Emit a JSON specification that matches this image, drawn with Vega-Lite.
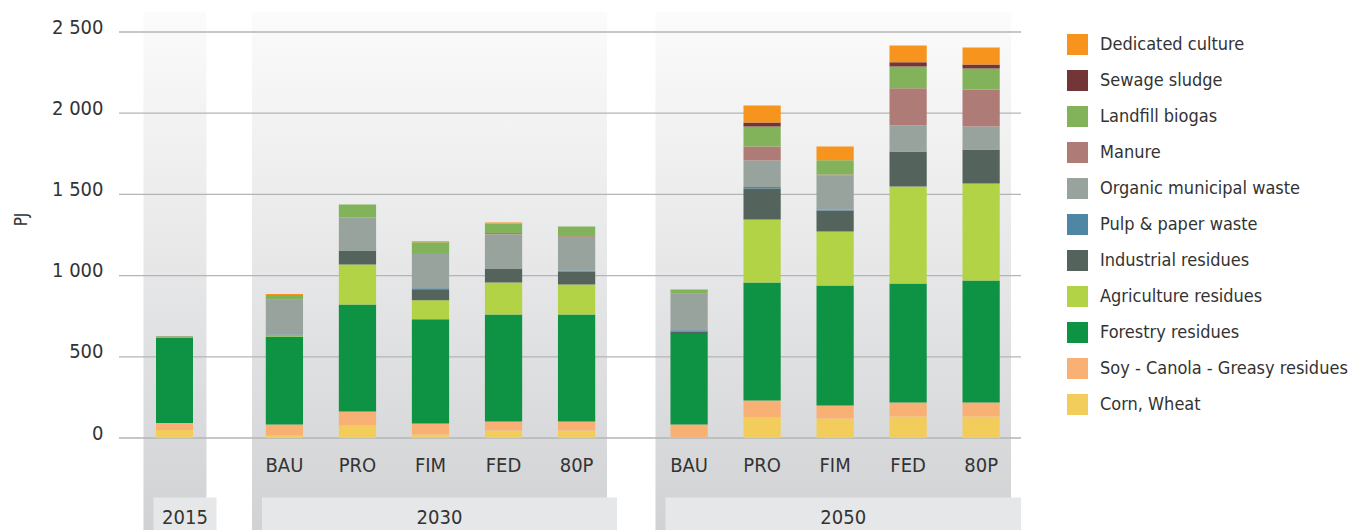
{
  "$schema": "https://vega.github.io/schema/vega-lite/v6.json",
  "padding": {"left": 12, "top": 12, "right": 5, "bottom": 0},
  "background": "white",
  "spacing": 0,
  "bounds": "flush",
  "config": {"view": {"stroke": null}, "font": "DejaVu Sans Condensed, sans-serif"},
  "resolve": {"scale": {"x": "independent", "y": "independent", "color": "shared"}},
  "datasets": {
    "bio": [
      {"year": "2015", "scenario": "2015", "source": "Corn, Wheat", "value": 50},
      {"year": "2015", "scenario": "2015", "source": "Soy - Canola - Greasy residues", "value": 42},
      {"year": "2015", "scenario": "2015", "source": "Forestry residues", "value": 526},
      {"year": "2015", "scenario": "2015", "source": "Organic municipal waste", "value": 4},
      {"year": "2015", "scenario": "2015", "source": "Manure", "value": 3},
      {"year": "2015", "scenario": "2015", "source": "Landfill biogas", "value": 3},

      {"year": "2030", "scenario": "BAU", "source": "Corn, Wheat", "value": 15},
      {"year": "2030", "scenario": "BAU", "source": "Soy - Canola - Greasy residues", "value": 68},
      {"year": "2030", "scenario": "BAU", "source": "Forestry residues", "value": 542},
      {"year": "2030", "scenario": "BAU", "source": "Agriculture residues", "value": 6},
      {"year": "2030", "scenario": "BAU", "source": "Pulp & paper waste", "value": 6},
      {"year": "2030", "scenario": "BAU", "source": "Organic municipal waste", "value": 212},
      {"year": "2030", "scenario": "BAU", "source": "Manure", "value": 2},
      {"year": "2030", "scenario": "BAU", "source": "Landfill biogas", "value": 29},
      {"year": "2030", "scenario": "BAU", "source": "Dedicated culture", "value": 6},

      {"year": "2030", "scenario": "PRO", "source": "Corn, Wheat", "value": 77},
      {"year": "2030", "scenario": "PRO", "source": "Soy - Canola - Greasy residues", "value": 86},
      {"year": "2030", "scenario": "PRO", "source": "Forestry residues", "value": 659},
      {"year": "2030", "scenario": "PRO", "source": "Agriculture residues", "value": 246},
      {"year": "2030", "scenario": "PRO", "source": "Industrial residues", "value": 87},
      {"year": "2030", "scenario": "PRO", "source": "Organic municipal waste", "value": 203},
      {"year": "2030", "scenario": "PRO", "source": "Landfill biogas", "value": 80},

      {"year": "2030", "scenario": "FIM", "source": "Corn, Wheat", "value": 22},
      {"year": "2030", "scenario": "FIM", "source": "Soy - Canola - Greasy residues", "value": 68},
      {"year": "2030", "scenario": "FIM", "source": "Forestry residues", "value": 641},
      {"year": "2030", "scenario": "FIM", "source": "Agriculture residues", "value": 117},
      {"year": "2030", "scenario": "FIM", "source": "Industrial residues", "value": 68},
      {"year": "2030", "scenario": "FIM", "source": "Pulp & paper waste", "value": 6},
      {"year": "2030", "scenario": "FIM", "source": "Organic municipal waste", "value": 213},
      {"year": "2030", "scenario": "FIM", "source": "Manure", "value": 4},
      {"year": "2030", "scenario": "FIM", "source": "Landfill biogas", "value": 66},
      {"year": "2030", "scenario": "FIM", "source": "Dedicated culture", "value": 6},

      {"year": "2030", "scenario": "FED", "source": "Corn, Wheat", "value": 46},
      {"year": "2030", "scenario": "FED", "source": "Soy - Canola - Greasy residues", "value": 56},
      {"year": "2030", "scenario": "FED", "source": "Forestry residues", "value": 659},
      {"year": "2030", "scenario": "FED", "source": "Agriculture residues", "value": 197},
      {"year": "2030", "scenario": "FED", "source": "Industrial residues", "value": 86},
      {"year": "2030", "scenario": "FED", "source": "Organic municipal waste", "value": 211},
      {"year": "2030", "scenario": "FED", "source": "Manure", "value": 7},
      {"year": "2030", "scenario": "FED", "source": "Landfill biogas", "value": 59},
      {"year": "2030", "scenario": "FED", "source": "Dedicated culture", "value": 6},

      {"year": "2030", "scenario": "80P", "source": "Corn, Wheat", "value": 46},
      {"year": "2030", "scenario": "80P", "source": "Soy - Canola - Greasy residues", "value": 56},
      {"year": "2030", "scenario": "80P", "source": "Forestry residues", "value": 659},
      {"year": "2030", "scenario": "80P", "source": "Agriculture residues", "value": 184},
      {"year": "2030", "scenario": "80P", "source": "Industrial residues", "value": 80},
      {"year": "2030", "scenario": "80P", "source": "Pulp & paper waste", "value": 6},
      {"year": "2030", "scenario": "80P", "source": "Organic municipal waste", "value": 206},
      {"year": "2030", "scenario": "80P", "source": "Manure", "value": 6},
      {"year": "2030", "scenario": "80P", "source": "Landfill biogas", "value": 59},

      {"year": "2050", "scenario": "BAU", "source": "Corn, Wheat", "value": 3},
      {"year": "2050", "scenario": "BAU", "source": "Soy - Canola - Greasy residues", "value": 80},
      {"year": "2050", "scenario": "BAU", "source": "Forestry residues", "value": 557},
      {"year": "2050", "scenario": "BAU", "source": "Industrial residues", "value": 16},
      {"year": "2050", "scenario": "BAU", "source": "Pulp & paper waste", "value": 8},
      {"year": "2050", "scenario": "BAU", "source": "Organic municipal waste", "value": 222},
      {"year": "2050", "scenario": "BAU", "source": "Manure", "value": 4},
      {"year": "2050", "scenario": "BAU", "source": "Landfill biogas", "value": 25},

      {"year": "2050", "scenario": "PRO", "source": "Corn, Wheat", "value": 126},
      {"year": "2050", "scenario": "PRO", "source": "Soy - Canola - Greasy residues", "value": 105},
      {"year": "2050", "scenario": "PRO", "source": "Forestry residues", "value": 727},
      {"year": "2050", "scenario": "PRO", "source": "Agriculture residues", "value": 388},
      {"year": "2050", "scenario": "PRO", "source": "Industrial residues", "value": 191},
      {"year": "2050", "scenario": "PRO", "source": "Pulp & paper waste", "value": 8},
      {"year": "2050", "scenario": "PRO", "source": "Organic municipal waste", "value": 164},
      {"year": "2050", "scenario": "PRO", "source": "Manure", "value": 86},
      {"year": "2050", "scenario": "PRO", "source": "Landfill biogas", "value": 123},
      {"year": "2050", "scenario": "PRO", "source": "Sewage sludge", "value": 25},
      {"year": "2050", "scenario": "PRO", "source": "Dedicated culture", "value": 105},

      {"year": "2050", "scenario": "FIM", "source": "Corn, Wheat", "value": 120},
      {"year": "2050", "scenario": "FIM", "source": "Soy - Canola - Greasy residues", "value": 80},
      {"year": "2050", "scenario": "FIM", "source": "Forestry residues", "value": 739},
      {"year": "2050", "scenario": "FIM", "source": "Agriculture residues", "value": 333},
      {"year": "2050", "scenario": "FIM", "source": "Industrial residues", "value": 129},
      {"year": "2050", "scenario": "FIM", "source": "Pulp & paper waste", "value": 6},
      {"year": "2050", "scenario": "FIM", "source": "Organic municipal waste", "value": 210},
      {"year": "2050", "scenario": "FIM", "source": "Manure", "value": 6},
      {"year": "2050", "scenario": "FIM", "source": "Landfill biogas", "value": 88},
      {"year": "2050", "scenario": "FIM", "source": "Dedicated culture", "value": 84},

      {"year": "2050", "scenario": "FED", "source": "Corn, Wheat", "value": 132},
      {"year": "2050", "scenario": "FED", "source": "Soy - Canola - Greasy residues", "value": 87},
      {"year": "2050", "scenario": "FED", "source": "Forestry residues", "value": 732},
      {"year": "2050", "scenario": "FED", "source": "Agriculture residues", "value": 598},
      {"year": "2050", "scenario": "FED", "source": "Industrial residues", "value": 215},
      {"year": "2050", "scenario": "FED", "source": "Organic municipal waste", "value": 160},
      {"year": "2050", "scenario": "FED", "source": "Manure", "value": 230},
      {"year": "2050", "scenario": "FED", "source": "Landfill biogas", "value": 134},
      {"year": "2050", "scenario": "FED", "source": "Sewage sludge", "value": 25},
      {"year": "2050", "scenario": "FED", "source": "Dedicated culture", "value": 104},

      {"year": "2050", "scenario": "80P", "source": "Corn, Wheat", "value": 132},
      {"year": "2050", "scenario": "80P", "source": "Soy - Canola - Greasy residues", "value": 87},
      {"year": "2050", "scenario": "80P", "source": "Forestry residues", "value": 751},
      {"year": "2050", "scenario": "80P", "source": "Agriculture residues", "value": 597},
      {"year": "2050", "scenario": "80P", "source": "Industrial residues", "value": 210},
      {"year": "2050", "scenario": "80P", "source": "Organic municipal waste", "value": 141},
      {"year": "2050", "scenario": "80P", "source": "Manure", "value": 228},
      {"year": "2050", "scenario": "80P", "source": "Landfill biogas", "value": 129},
      {"year": "2050", "scenario": "80P", "source": "Sewage sludge", "value": 25},
      {"year": "2050", "scenario": "80P", "source": "Dedicated culture", "value": 105}
    ],
    "ticks": [{"t": 0}, {"t": 500}, {"t": 1000}, {"t": 1500}, {"t": 2000}, {"t": 2500}]
  },
  "hconcat": [
    {
      "width": 111, "height": 406,
      "resolve": {"scale": {"x": "independent"}},
      "layer": [
        {
          "data": {"values": [{"year": "2015"}]},
          "layer": [
            {"mark": {"type": "rect", "fill": {"gradient": "linear", "x1": 0, "y1": 0, "x2": 0, "y2": 1, "stops": [{"offset": 0, "color": "#fbfbfb"}, {"offset": 1, "color": "#d1d2d4"}]}},
             "encoding": {"x": {"field": "year", "type": "nominal", "axis": null, "scale": {"paddingInner": 0, "paddingOuter": 0.381, "align": 0.51}},
                          "y": {"datum": 2620, "type": "quantitative", "scale": {"domain": [0, 2500], "nice": false}}, "y2": {"datum": -570}}},
            {"mark": {"type": "rect", "fill": "#e6e7e8", "xOffset": 10},
             "encoding": {"x": {"field": "year", "type": "nominal", "axis": null},
                          "y": {"datum": -366, "type": "quantitative"}, "y2": {"datum": -570}}},
            {"mark": {"type": "text", "dx": 10, "fontSize": 20, "color": "#333333", "baseline": "middle"},
             "encoding": {"x": {"field": "year", "type": "nominal", "axis": null},
                          "y": {"datum": -490, "type": "quantitative"}, "text": {"field": "year"}}}
          ]
        },
        {
          "data": {"name": "ticks"},
          "mark": {"type": "rule", "color": "#b5b5b5", "strokeWidth": 1.3},
          "encoding": {"y": {"field": "t", "type": "quantitative", "scale": {"domain": [0, 2500], "nice": false}}}
        },
        {
          "data": {"name": "bio"},
          "transform": [{"filter": "datum.year === '2015'"}, {"window": [{"op": "row_number", "as": "rank"}]}],
          "mark": {"type": "bar"},
          "encoding": {
            "x": {"field": "scenario", "type": "nominal", "axis": null, "scale": {"paddingInner": 0, "paddingOuter": 1}},
            "y": {"field": "value", "type": "quantitative", "stack": "zero", "scale": {"domain": [0, 2500], "nice": false},
                  "axis": {"title": "PJ", "zindex": 1, "grid": false, "domain": false, "ticks": false, "values": [0, 500, 1000, 1500, 2000, 2500],
                           "labelExpr": "replace(format(datum.value, ','), ',', ' ')", "labelFontSize": 20, "labelColor": "#333333", "labelPadding": 16, "labelOffset": -5,
                           "titleFontSize": 17, "titleFontWeight": "normal", "titleColor": "#333333", "titleAngle": 270, "titleX": -98, "titleY": 187, "titleAlign": "center", "titleBaseline": "middle"}},
            "order": {"field": "rank", "type": "quantitative", "sort": "ascending"},
            "color": {"field": "source", "type": "nominal",
              "scale": {"domain": ["Dedicated culture", "Sewage sludge", "Landfill biogas", "Manure", "Organic municipal waste", "Pulp & paper waste", "Industrial residues", "Agriculture residues", "Forestry residues", "Soy - Canola - Greasy residues", "Corn, Wheat"],
                        "range": ["#f7941d", "#743538", "#82b25a", "#af7b76", "#97a39c", "#4e87a4", "#54635b", "#b3d347", "#0e9244", "#f9b075", "#f3cd5c"]},
              "legend": {"title": null, "orient": "right", "offset": 43, "padding": 2, "symbolType": "square", "symbolSize": 441, "symbolStrokeWidth": 0, "symbolOpacity": 1, "labelFontSize": 18, "labelOffset": 12, "rowPadding": 15, "labelColor": "#333333", "labelLimit": 400}}
          }
        }
      ]
    },
    {
      "width": 401, "height": 406,
      "resolve": {"scale": {"x": "independent"}},
      "layer": [
        {
          "data": {"values": [{"year": "2030"}]},
          "layer": [
            {"mark": {"type": "rect", "fill": {"gradient": "linear", "x1": 0, "y1": 0, "x2": 0, "y2": 1, "stops": [{"offset": 0, "color": "#fbfbfb"}, {"offset": 1, "color": "#d1d2d4"}]}},
             "encoding": {"x": {"field": "year", "type": "nominal", "axis": null, "scale": {"paddingInner": 0, "paddingOuter": 0.0648, "align": 0.478}},
                          "y": {"datum": 2620, "type": "quantitative", "axis": null, "scale": {"domain": [0, 2500], "nice": false}}, "y2": {"datum": -570}}},
            {"mark": {"type": "rect", "fill": "#e6e7e8", "xOffset": 10},
             "encoding": {"x": {"field": "year", "type": "nominal", "axis": null},
                          "y": {"datum": -366, "type": "quantitative", "axis": null}, "y2": {"datum": -570}}},
            {"mark": {"type": "text", "dx": 10, "fontSize": 20, "color": "#333333", "baseline": "middle"},
             "encoding": {"x": {"field": "year", "type": "nominal", "axis": null},
                          "y": {"datum": -490, "type": "quantitative", "axis": null}, "text": {"field": "year"}}}
          ]
        },
        {
          "data": {"name": "ticks"},
          "mark": {"type": "rule", "color": "#b5b5b5", "strokeWidth": 1.3},
          "encoding": {"y": {"field": "t", "type": "quantitative", "axis": null, "scale": {"domain": [0, 2500], "nice": false}}}
        },
        {
          "data": {"name": "bio"},
          "transform": [{"filter": "datum.year === '2030'"}, {"window": [{"op": "row_number", "as": "rank"}]}],
          "mark": {"type": "bar"},
          "encoding": {
            "x": {"field": "scenario", "type": "nominal", "sort": ["BAU", "PRO", "FIM", "FED", "80P"], "scale": {"paddingInner": 0.49, "paddingOuter": 0.49},
                  "axis": {"title": null, "zindex": 1, "domain": false, "ticks": false, "labelAngle": 0, "labelFontSize": 20, "labelColor": "#333333", "labelPadding": 17}},
            "y": {"field": "value", "type": "quantitative", "stack": "zero", "axis": null, "scale": {"domain": [0, 2500], "nice": false}},
            "order": {"field": "rank", "type": "quantitative", "sort": "ascending"},
            "color": {"field": "source", "type": "nominal",
              "scale": {"domain": ["Dedicated culture", "Sewage sludge", "Landfill biogas", "Manure", "Organic municipal waste", "Pulp & paper waste", "Industrial residues", "Agriculture residues", "Forestry residues", "Soy - Canola - Greasy residues", "Corn, Wheat"],
                        "range": ["#f7941d", "#743538", "#82b25a", "#af7b76", "#97a39c", "#4e87a4", "#54635b", "#b3d347", "#0e9244", "#f9b075", "#f3cd5c"]},
              "legend": {"title": null, "orient": "right", "offset": 43, "padding": 2, "symbolType": "square", "symbolSize": 441, "symbolStrokeWidth": 0, "symbolOpacity": 1, "labelFontSize": 18, "labelOffset": 12, "rowPadding": 15, "labelColor": "#333333", "labelLimit": 400}}
          }
        }
      ]
    },
    {
      "width": 390, "height": 406,
      "resolve": {"scale": {"x": "independent"}},
      "layer": [
        {
          "data": {"values": [{"year": "2050"}]},
          "layer": [
            {"mark": {"type": "rect", "fill": {"gradient": "linear", "x1": 0, "y1": 0, "x2": 0, "y2": 1, "stops": [{"offset": 0, "color": "#fbfbfb"}, {"offset": 1, "color": "#d1d2d4"}]}},
             "encoding": {"x": {"field": "year", "type": "nominal", "axis": null, "scale": {"paddingInner": 0, "paddingOuter": 0.0485, "align": 0.71}},
                          "y": {"datum": 2620, "type": "quantitative", "axis": null, "scale": {"domain": [0, 2500], "nice": false}}, "y2": {"datum": -570}}},
            {"mark": {"type": "rect", "fill": "#e6e7e8", "xOffset": 10},
             "encoding": {"x": {"field": "year", "type": "nominal", "axis": null},
                          "y": {"datum": -366, "type": "quantitative", "axis": null}, "y2": {"datum": -570}}},
            {"mark": {"type": "text", "dx": 10, "fontSize": 20, "color": "#333333", "baseline": "middle"},
             "encoding": {"x": {"field": "year", "type": "nominal", "axis": null},
                          "y": {"datum": -490, "type": "quantitative", "axis": null}, "text": {"field": "year"}}}
          ]
        },
        {
          "data": {"name": "ticks"},
          "mark": {"type": "rule", "color": "#b5b5b5", "strokeWidth": 1.3},
          "encoding": {"y": {"field": "t", "type": "quantitative", "axis": null, "scale": {"domain": [0, 2500], "nice": false}}}
        },
        {
          "data": {"name": "bio"},
          "transform": [{"filter": "datum.year === '2050'"}, {"window": [{"op": "row_number", "as": "rank"}]}],
          "mark": {"type": "bar"},
          "encoding": {
            "x": {"field": "scenario", "type": "nominal", "sort": ["BAU", "PRO", "FIM", "FED", "80P"], "scale": {"paddingInner": 0.49, "paddingOuter": 0.416, "align": 0.65},
                  "axis": {"title": null, "zindex": 1, "domain": false, "ticks": false, "labelAngle": 0, "labelFontSize": 20, "labelColor": "#333333", "labelPadding": 17}},
            "y": {"field": "value", "type": "quantitative", "stack": "zero", "axis": null, "scale": {"domain": [0, 2500], "nice": false}},
            "order": {"field": "rank", "type": "quantitative", "sort": "ascending"},
            "color": {"field": "source", "type": "nominal",
              "scale": {"domain": ["Dedicated culture", "Sewage sludge", "Landfill biogas", "Manure", "Organic municipal waste", "Pulp & paper waste", "Industrial residues", "Agriculture residues", "Forestry residues", "Soy - Canola - Greasy residues", "Corn, Wheat"],
                        "range": ["#f7941d", "#743538", "#82b25a", "#af7b76", "#97a39c", "#4e87a4", "#54635b", "#b3d347", "#0e9244", "#f9b075", "#f3cd5c"]},
              "legend": {"title": null, "orient": "right", "offset": 43, "padding": 2, "symbolType": "square", "symbolSize": 441, "symbolStrokeWidth": 0, "symbolOpacity": 1, "labelFontSize": 18, "labelOffset": 12, "rowPadding": 15, "labelColor": "#333333", "labelLimit": 400}}
          }
        }
      ]
    }
  ]
}
